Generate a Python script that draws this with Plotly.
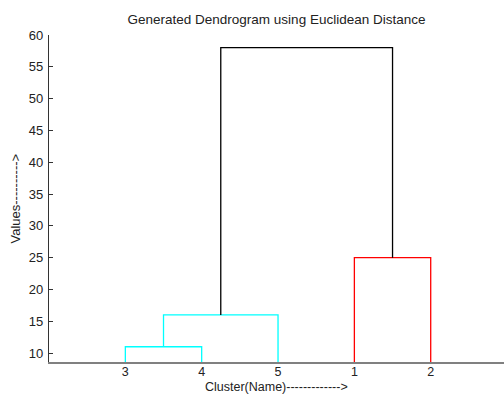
import plotly.graph_objects as go

leaf_labels = ["3", "4", "5", "1", "2"]
leaf_positions = [1, 2, 3, 4, 5]
# links: (left x, right x, left base height, right base height, merge height, colour)
link_left_x = [1, 1.5, 4, 2.25]
link_right_x = [2, 3, 5, 4.5]
link_left_base = [0, 11, 0, 16]
link_right_base = [0, 0, 0, 25]
link_height = [11, 16, 25, 58]
link_color = ["#00FFFF", "#00FFFF", "#FF0000", "#000000"]

y_ticks = [10, 15, 20, 25, 30, 35, 40, 45, 50, 55, 60]

fig = go.Figure()
for lx, rx, lb, rb, h, c in zip(link_left_x, link_right_x, link_left_base,
                                link_right_base, link_height, link_color):
    fig.add_trace(go.Scatter(
        x=[lx, lx, rx, rx], y=[lb, h, h, rb], mode="lines",
        line=dict(color=c, width=1.3), showlegend=False, hoverinfo="skip"))

fam = "Liberation Sans, Arial, sans-serif"
font = dict(family=fam, size=13, color="#222222")
xfont = dict(family=fam, size=12.5, color="#222222")
title_font = dict(family=fam, size=13.5, color="#222222")

W, H = 504, 394
L, T, B = 49, 35, 32
pw, ph = W - L, H - T - B

fig.update_layout(
    width=W, height=H,
    margin=dict(l=L, r=0, t=T, b=B),
    paper_bgcolor="white", plot_bgcolor="white",
    font=font,
    title=dict(text="Generated Dendrogram using Euclidean Distance",
               x=276.5 / W, xanchor="center", y=1 - 19 / H, yanchor="middle",
               font=title_font),
    xaxis=dict(range=[0, 5.96], tickvals=leaf_positions, ticktext=leaf_labels,
               showgrid=False, zeroline=False, showline=True,
               linecolor="#808080", linewidth=2, ticks="",
               tickfont=xfont, ticklabelstandoff=-3),
    yaxis=dict(range=[8.6, 60], tickvals=y_ticks, showgrid=False,
               zeroline=False, showline=True, linecolor="#333333",
               linewidth=1.3, ticks="inside", ticklen=4, tickcolor="#333333",
               tickfont=font, ticklabelstandoff=2),
    annotations=[
        dict(text="Cluster(Name)------------->", xref="paper", yref="paper",
             x=0.5, y=-(387 - (H - B)) / ph, xanchor="center", yanchor="middle",
             showarrow=False, font=xfont),
        dict(text="Values---------->", xref="paper", yref="paper",
             x=-(L - 15) / pw, y=0.5, xanchor="center", yanchor="middle",
             textangle=-90, showarrow=False, font=font),
    ],
)

fig.write_html("out.html",
               config={"displayModeBar": False},
               post_script="document.body.style.margin='0';"
                           "document.documentElement.style.overflow='hidden';")
